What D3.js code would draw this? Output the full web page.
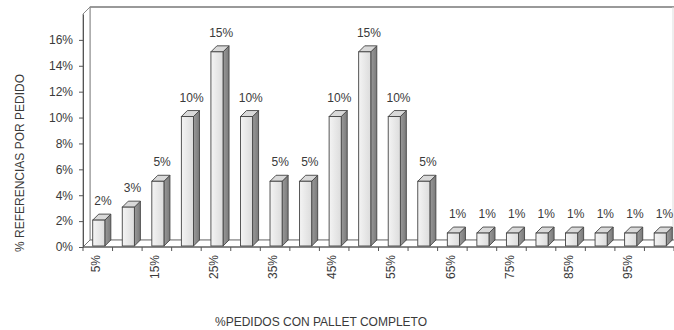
<!DOCTYPE html>
<html><head><meta charset="utf-8">
<script src="https://cdn.jsdelivr.net/npm/d3@7"></script>
<style>
html,body{margin:0;padding:0;background:#fff;}
text{font-family:"Liberation Sans",Arial,sans-serif;fill:#3a3a3a;}
</style></head>
<body>
<svg id="chart" width="674" height="330"></svg>
<script>
const categories = ["5%","10%","15%","20%","25%","30%","35%","40%","45%","50%","55%","60%","65%","70%","75%","80%","85%","90%","95%","100%"];
const values = [2,3,5,10,15,10,5,5,10,15,10,5,1,1,1,1,1,1,1,1];
const yTicks = [0,2,4,6,8,10,12,14,16];
const yTitle = "% REFERENCIAS POR PEDIDO";
const xTitle = "%PEDIDOS CON PALLET COMPLETO";

const svg = d3.select("#chart");
const W = 674, H = 330;
const x0 = 83, x1 = 674, yBase = 247, yTop = 14;
const D = 7; // wall depth offset
const x = d3.scaleBand().domain(categories).range([x0, x1]).paddingInner(0.59).paddingOuter(0.295);
const y = d3.scaleLinear().domain([0, 18]).range([yBase, yTop]);

// defs gradients
const defs = svg.append("defs");
const gf = defs.append("linearGradient").attr("id","gFront").attr("x1","0").attr("x2","1");
gf.append("stop").attr("offset","0").attr("stop-color","#f4f4f4");
gf.append("stop").attr("offset","1").attr("stop-color","#dcdcdc");
const gs = defs.append("linearGradient").attr("id","gSide").attr("x1","0").attr("x2","1");
gs.append("stop").attr("offset","0").attr("stop-color","#9a9a9a");
gs.append("stop").attr("offset","1").attr("stop-color","#7a7a7a");

// back wall
const g = svg.append("g");
g.append("rect").attr("x", x0 + D).attr("y", y(18) - D).attr("width", W).attr("height", (yBase - D) - (y(18) - D))
  .attr("fill","#fff").attr("stroke","#aaa").attr("stroke-width",1);
g.append("line").attr("x1", x0 + D).attr("x2", W).attr("y1", y(18) - D).attr("y2", y(18) - D)
  .attr("stroke","#999").attr("stroke-width",2);
g.append("line").attr("x1", W - 1).attr("x2", W - 1).attr("y1", y(18) - D).attr("y2", yBase - D)
  .attr("stroke","#ddd").attr("stroke-width",1);
// left wall
g.append("path").attr("d", `M${x0},${y(18)} L${x0 + D},${y(18) - D} L${x0 + D},${yBase - D} L${x0},${yBase} Z`)
  .attr("fill","#fff").attr("stroke","#888").attr("stroke-width",1);
// floor
g.append("path").attr("d", `M${x0},${yBase} L${x0 + D},${yBase - D} L${W + 10},${yBase - D} L${W + 10},${yBase} Z`)
  .attr("fill","#fff").attr("stroke","#777").attr("stroke-width",1);

// bars
const bw = x.bandwidth();
const bo = 1, bd = 6;
const bars = g.selectAll("g.bar").data(values.map((v,i)=>({v, c: categories[i]}))).enter().append("g").attr("class","bar");
bars.each(function(d){
  const sel = d3.select(this);
  const fx = x(d.c) + bo, fy0 = yBase - bo, fy1 = y(d.v) - bo;
  // side
  sel.append("path").attr("d", `M${fx + bw},${fy0} L${fx + bw + bd},${fy0 - bd} L${fx + bw + bd},${fy1 - bd} L${fx + bw},${fy1} Z`)
    .attr("fill","url(#gSide)").attr("stroke","#444").attr("stroke-width",0.9).attr("stroke-linejoin","round");
  // top
  sel.append("path").attr("d", `M${fx},${fy1} L${fx + bd},${fy1 - bd} L${fx + bw + bd},${fy1 - bd} L${fx + bw},${fy1} Z`)
    .attr("fill","#d9d9d9").attr("stroke","#444").attr("stroke-width",0.9).attr("stroke-linejoin","round");
  // front
  sel.append("rect").attr("x", fx).attr("y", fy1).attr("width", bw).attr("height", fy0 - fy1)
    .attr("fill","url(#gFront)").attr("stroke","#444").attr("stroke-width",0.9);
  // label
  sel.append("text").attr("x", fx + bw/2 + bd*0.7).attr("y", fy1 - bd - 9)
    .attr("text-anchor","middle").attr("font-size",12).text(d.v + "%");
});

// front x axis line & ticks
g.append("line").attr("x1", x0).attr("x2", W).attr("y1", yBase).attr("y2", yBase).attr("stroke","#555").attr("stroke-width",1);
const step = x.step();
d3.range(categories.length + 1).forEach(i => {
  const tx = x0 + i * step;
  g.append("line").attr("x1", tx).attr("x2", tx).attr("y1", yBase).attr("y2", yBase + 4).attr("stroke","#555");
});
// x tick labels (every other)
categories.forEach((c,i) => {
  if (i % 2 !== 0) return;
  const cx = x(c) + bw/2 - 2;
  g.append("text").attr("transform", `translate(${cx},255) rotate(-90)`)
    .attr("text-anchor","end").attr("dy","0.35em").attr("font-size",12).text(c);
});

// y axis
const yAxis = d3.axisLeft(y).tickValues(yTicks).tickSize(4).tickSizeOuter(0).tickPadding(6).tickFormat(d => d + "%");
const ya = svg.append("g").attr("transform", `translate(${x0},0)`).call(yAxis);
ya.select(".domain").attr("stroke","#555");
ya.selectAll(".tick line").attr("stroke","#555");
ya.selectAll(".tick text").attr("font-size",12).attr("font-family","Liberation Sans, Arial, sans-serif").attr("fill","#3a3a3a");

// titles
svg.append("text").attr("transform","translate(24,163) rotate(-90)").attr("text-anchor","middle")
  .attr("font-size",12).text(yTitle);
svg.append("text").attr("x", 321).attr("y", 326).attr("text-anchor","middle")
  .attr("font-size",12).text(xTitle);
</script>
</body></html>
